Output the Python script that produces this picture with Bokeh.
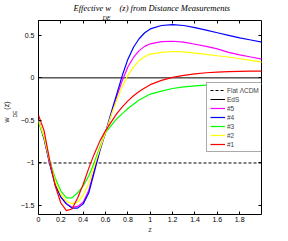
from bokeh.plotting import figure
from bokeh.models import (Range1d, LinearAxis, FixedTicker, CustomJSTickFormatter,
                          Legend, LegendItem, Title)
from bokeh.embed import file_html
from bokeh.resources import INLINE

# ---- data ----
z = [0, 0.05, 0.1, 0.15, 0.2, 0.25, 0.3, 0.35, 0.4, 0.45, 0.5, 0.55, 0.6, 0.65, 0.7,
     0.75, 0.8, 0.85, 0.9, 0.95, 1.0, 1.1, 1.2, 1.3, 1.4, 1.5, 1.6, 1.7, 1.8, 1.9, 2.0]

w_5 = [-0.50, -0.70, -1.00, -1.25, -1.40, -1.48, -1.52, -1.51, -1.46, -1.32, -1.08, -0.84,
       -0.64, -0.43, -0.22, -0.03, 0.13, 0.24, 0.32, 0.37, 0.40, 0.425, 0.43, 0.42, 0.395,
       0.37, 0.34, 0.30, 0.27, 0.245, 0.22]
w_4 = [-0.50, -0.72, -1.01, -1.26, -1.40, -1.48, -1.53, -1.53, -1.48, -1.35, -1.10, -0.85,
       -0.64, -0.41, -0.19, 0.03, 0.22, 0.36, 0.46, 0.53, 0.575, 0.615, 0.625, 0.615, 0.59,
       0.56, 0.53, 0.50, 0.47, 0.445, 0.42]
w_3 = [-0.52, -0.70, -0.97, -1.18, -1.33, -1.41, -1.41, -1.35, -1.27, -1.15, -0.99, -0.81,
       -0.64, -0.56, -0.48, -0.42, -0.36, -0.31, -0.26, -0.225, -0.19, -0.155, -0.125,
       -0.105, -0.093, -0.085, -0.08, -0.077, -0.074, -0.072, -0.07]
w_2 = [-0.50, -0.69, -0.98, -1.22, -1.37, -1.45, -1.48, -1.46, -1.38, -1.24, -1.03, -0.83,
       -0.64, -0.44, -0.26, -0.10, 0.03, 0.13, 0.20, 0.25, 0.28, 0.30, 0.31, 0.305, 0.29,
       0.275, 0.26, 0.245, 0.225, 0.205, 0.185]
w_1 = [-0.44, -0.62, -0.97, -1.27, -1.47, -1.56, -1.54, -1.41, -1.25, -1.06, -0.89, -0.74,
       -0.62, -0.52, -0.42, -0.34, -0.27, -0.21, -0.16, -0.12, -0.08, -0.03, 0.005, 0.03,
       0.048, 0.06, 0.068, 0.074, 0.077, 0.079, 0.08]

z_ends = [0.0, 2.0]
w_lcdm = [-1.0, -1.0]
w_eds = [0.0, 0.0]

x_ticks = [0, 0.2, 0.4, 0.6, 0.8, 1.0, 1.2, 1.4, 1.6, 1.8]
y_ticks = [-1.5, -1.0, -0.5, 0, 0.5]

series_labels = ["#5", "#4", "#3", "#2", "#1"]
series_colors = ["#ff00ff", "#0000ff", "#00ff00", "#ffff00", "#ff0000"]
series_values = [w_5, w_4, w_3, w_2, w_1]

NB = "\u00a0"

# ---- figure ----
p = figure(width=280, height=238, output_backend="svg", toolbar_location=None,
           x_range=Range1d(0, 1.995), y_range=Range1d(-1.605, 0.674),
           min_border_left=37, min_border_right=19, min_border_top=18,
           min_border_bottom=24)
p.grid.visible = False
p.outline_line_color = "black"
p.outline_line_width = 1
p.background_fill_color = "white"
p.border_fill_color = "white"

fmt_code = ("if (Math.abs(tick) < 1e-9) { return '0'; } "
            "return tick.toFixed(1).replace(/\\.0$/, '').replace('-', '\\u2212');")

for ax, ticks in ((p.xaxis[0], x_ticks), (p.yaxis[0], y_ticks)):
    ax.ticker = FixedTicker(ticks=ticks)
    ax.formatter = CustomJSTickFormatter(code=fmt_code)
    ax.major_tick_in = 3
    ax.major_tick_out = 0
    ax.minor_tick_line_color = None
    ax.axis_line_color = None
    ax.major_label_text_font = "Liberation Sans"
    ax.major_label_text_font_size = "7px"
    ax.major_label_text_color = "black"
p.xaxis[0].major_label_standoff = 2
p.yaxis[0].major_label_standoff = 4
p.xaxis[0].axis_label = "z"
p.xaxis[0].axis_label_text_font = "Liberation Sans"
p.xaxis[0].axis_label_text_font_size = "7px"
p.xaxis[0].axis_label_text_font_style = "normal"
p.xaxis[0].axis_label_standoff = 1

# mirrored tick marks on the top and right edges (no labels)
for loc, ticks in (("right", y_ticks), ("above", x_ticks)):
    ax = LinearAxis(ticker=FixedTicker(ticks=ticks),
                    formatter=CustomJSTickFormatter(code="return '';"),
                    major_label_text_font_size="1px",
                    major_tick_in=3, major_tick_out=0, axis_line_color=None,
                    minor_tick_line_color=None, major_label_standoff=0)
    p.add_layout(ax, loc)

# reference lines
r_lcdm = p.line(z_ends, w_lcdm, line_color="black", line_width=1, line_dash="3 2")
r_eds = p.line(z_ends, w_eds, line_color="black", line_width=1)

renderers = []
for vals, col in zip(series_values, series_colors):
    renderers.append(p.line(z, vals, line_color=col, line_width=1.2))

items = [LegendItem(label="Flat \u039bCDM", renderers=[r_lcdm]),
         LegendItem(label="EdS", renderers=[r_eds])]
for lab, r in zip(series_labels, renderers):
    items.append(LegendItem(label=lab, renderers=[r]))

legend = Legend(items=items, location=(168, 62), label_text_font="Liberation Sans",
                label_text_font_size="6.5px", glyph_width=15, glyph_height=8,
                label_height=8, label_width=10, label_standoff=2, padding=3, spacing=1,
                margin=0, border_line_color="#555555", border_line_width=1,
                background_fill_color="white", background_fill_alpha=1)
p.add_layout(legend)

# title: subscript row first (nearest the frame), then the main row
p.title.visible = False
p.add_layout(Title(text="DE", align="left", offset=64, standoff=0,
                   text_font="Liberation Serif", text_font_style="italic",
                   text_font_size="6px", text_color="black"), "above")
p.add_layout(Title(text="Effective w" + NB * 4 + "(z) from Distance Measurements",
                   align="left", offset=35, standoff=0, text_font="Liberation Serif",
                   text_font_style="italic", text_font_size="8.5px",
                   text_color="black"), "above")

# y axis label: subscript column first (nearest the axis), then the main column
p.add_layout(Title(text="DE", align="left", offset=97, standoff=0,
                   text_font="Liberation Sans", text_font_style="normal",
                   text_font_size="5px", text_color="black"), "left")
p.add_layout(Title(text="w" + NB * 4 + "(z)", align="left", offset=92, standoff=0,
                   text_font="Liberation Sans", text_font_style="normal",
                   text_font_size="7px", text_color="black"), "left")

open("out.html", "w").write(file_html(p, INLINE))
